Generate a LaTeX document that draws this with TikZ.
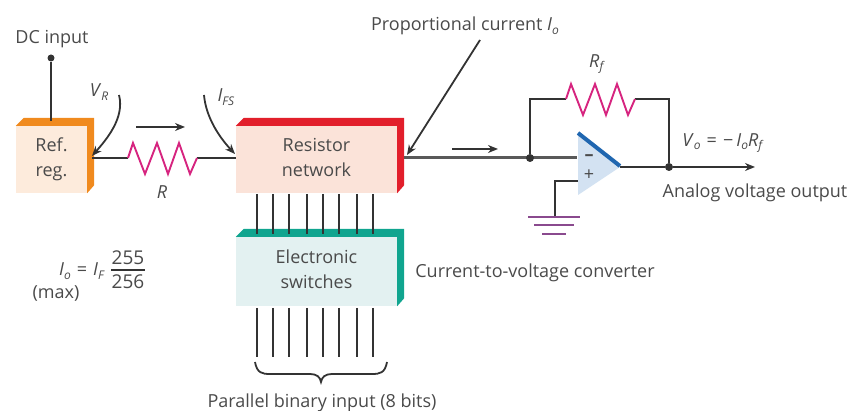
\documentclass[tikz,border=0pt]{standalone}
\usepackage{fontspec}
\setmainfont{Open Sans}
\usetikzlibrary{arrows.meta,positioning,calc}
\definecolor{txt}{HTML}{4A4A4A}
\definecolor{wire}{HTML}{333333}
\definecolor{orangeedge}{HTML}{F08A1E}
\definecolor{orangeface}{HTML}{FDEBDC}
\definecolor{rededge}{HTML}{E21F2B}
\definecolor{redface}{HTML}{FBE3D9}
\definecolor{tealedge}{HTML}{10A58F}
\definecolor{tealface}{HTML}{E3F1F1}
\definecolor{respink}{HTML}{D6247F}
\definecolor{gndpurple}{HTML}{8A4A8E}
\definecolor{ampface}{HTML}{D3E2F2}
\definecolor{ampedge}{HTML}{1F66B0}
\newcommand{\lab}[2]{\textit{#1}\raisebox{-.35ex}{\fontsize{12}{12}\selectfont\textit{#2}}}
\newcommand{\boxedge}[2]{\fill[#2] (#1.north west) -- ++(8,-8) -| ($(#1.south east)+(7,-8)$) -- (#1.south east) -- (#1.north east) -- cycle;}
\newcommand{\zigzag}{-- ++(5,-15) -- ++(12,31) -- ++(12,-31) -- ++(11,31) -- ++(11,-31) -- ++(11,31) -- ++(7,-16)}
\begin{document}
\begin{tikzpicture}[x=1pt, y=-1pt, >={Stealth[length=10pt,width=8pt]}, node distance=112pt, on grid,
  lbl/.style={text=txt, font=\fontsize{18}{25}\selectfont, inner sep=0pt},
  block/.style={lbl, align=center, minimum height=67pt, text depth=4pt},
  line/.style={draw=wire, line width=1.8pt},
  res/.style={draw=respink, line width=1.9pt, line join=miter},
  gnd/.style={draw=gndpurple, line width=1.6pt},
  junction/.style={circle, fill=wire, inner sep=0pt, minimum size=8pt}]
\useasboundingbox (0,0) rectangle (852,411);
\node[block, fill=orangeface, minimum width=71pt] (ref) at (51.5,159.5) {Ref.\\reg.};
\node[block, fill=redface, minimum width=161pt] (net) at (316.5,159.5) {Resistor\\network};
\node[block, fill=tealface, minimum width=161pt, minimum height=69pt] (sw) [below=of net] {Electronic\\switches};
\boxedge{ref}{orangeedge}
\boxedge{net}{rededge}
\boxedge{sw}{tealedge}
\foreach \x in {257,273,289,307,323,339,357,373} {
  \coordinate (up\x) at (\x,194);
  \coordinate (mid\x) at (\x,234);
  \coordinate (lo\x) at (\x,308);
  \coordinate (end\x) at (\x,357);
  \draw[line] (up\x) -- (mid\x);
  \draw[line] (lo\x) -- (end\x);
}
\node[lbl] (dc) at (52,39) {DC input};
\node[junction, minimum size=7pt] (dcdot) at (51,58) {};
\draw[line] (dcdot) -- (51,121);
\coordinate (refout) at (92,158);
\coordinate (netin) at (236,158);
\coordinate (netout) at (404,158);
\coordinate (resl) at (128,158);
\coordinate (resr) at (197,158);
\draw[line] (refout) -- (resl);
\draw[line] (resr) -- (netin);
\draw[res] (resl) \zigzag;
\node[lbl] (rlab) at (162,192) {\textit{R}};
\node[lbl] (vr) at (99,92) {\lab{V}{R}};
\node[lbl] (ifs) at (226,97) {\lab{I}{FS}};
\coordinate (vrs) at (119,95);
\coordinate (vre) at (92,156);
\coordinate (ifss) at (204,95);
\coordinate (ifse) at (235,154);
\draw[line, ->] (vrs) .. controls (125,118) and (106,140) .. (vre);
\draw[line, ->] (ifss) .. controls (206,118) and (220,138) .. (ifse);
\coordinate (ia) at (136,127);
\coordinate (ib) at (185,127);
\draw[line, ->] (ia) -- (ib);
\node[lbl] (prop) at (465,26) {Proportional current \lab{I}{o}};
\coordinate (props) at (480,40);
\coordinate (prope) at (407,155);
\draw[line, ->] (props) -- (prope);
\coordinate (oa) at (452,149);
\coordinate (ob) at (498,149);
\draw[line, ->] (oa) -- (ob);
\fill[ampface] (578,133) -- (620,167) -- (578,195) -- cycle;
\coordinate (ampminus) at (577,158);
\coordinate (ampplus) at (578,181);
\coordinate (ampout) at (620,167);
\draw[draw=ampedge, line width=4pt] (578,133) -- (620,166);
\node[lbl] (minus) at (589,158) {\textbf{–}};
\node[lbl] (plus) at (589,175) {+};
\draw[draw=gray!70!black, line width=3pt] (netout) -- (ampminus);
\node[junction] (fbl) at (530,158) {};
\node[junction] (fbr) at (669,167) {};
\coordinate (rfl) at (566,99);
\coordinate (rfr) at (635,99);
\coordinate (vout) at (755,167);
\draw[line] (fbl) |- (rfl);
\draw[line] (rfr) -| (fbr);
\draw[res] (rfl) \zigzag;
\draw[line] (ampout) -- (fbr);
\draw[line, ->] (fbr) -- (vout);
\coordinate (gndtop) at (555,217);
\draw[line] (ampplus) -| (gndtop);
\draw[gnd] (528,217) -- (580,217);
\draw[gnd] (534,225) -- (574,225);
\draw[gnd] (542,234) -- (566,234);
\node[lbl] (rf) at (597,64) {\lab{R}{f}};
\node[lbl] (vo) at (723,143) {\lab{V}{o}\,\,=\,\,−\,\lab{I}{o}\lab{R}{f}};
\node[lbl] (aout) at (755,193) {Analog voltage output};
\node[lbl] (conv) at (535,273) {Current-to-voltage converter};
\node[lbl] (io) at (82,271) {\lab{I}{o}\,\,=\,\,\lab{I}{F}};
\node[lbl] (maxl) at (56,294) {(max)};
\node[lbl, font=\fontsize{19}{19}\selectfont] (num) at (128,258) {255};
\node[lbl, font=\fontsize{19}{19}\selectfont] (den) at (128,282) {256};
\coordinate (fracl) at (111,270);
\coordinate (fracr) at (145,270);
\draw[line] (fracl) -- (fracr);
\coordinate (bl) at (255,362);
\coordinate (bm) at (321,382);
\coordinate (br) at (387,362);
\draw[line] (bl) .. controls (257,373) and (262,374) .. (270,374) -- (310,374)
  .. controls (317,374) and (320,377) .. (bm) .. controls (322,377) and (325,374) .. (332,374)
  -- (372,374) .. controls (380,374) and (385,373) .. (br);
\node[lbl] (par) at (322,403) {Parallel binary input (8 bits)};
\end{tikzpicture}
\end{document}
